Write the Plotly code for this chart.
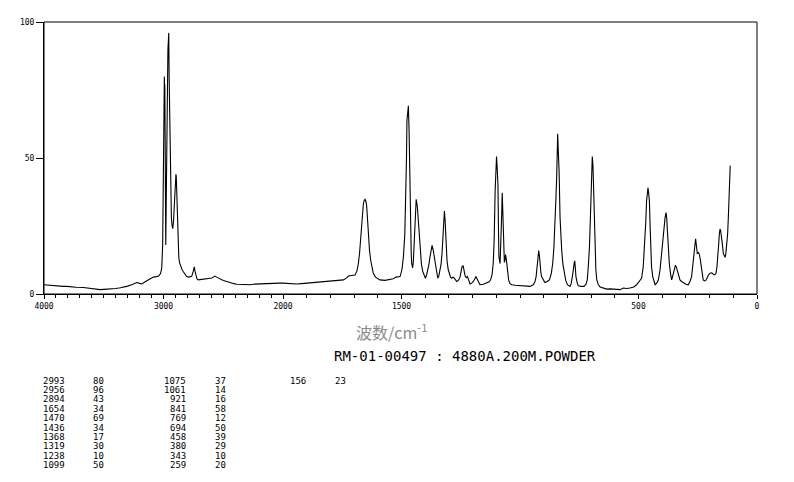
import plotly.graph_objects as go

# ---- spectrum: 4000-2000 cm-1 (compressed scale) ----
wn_high = [4000, 3960, 3922, 3880, 3840, 3810, 3770, 3730, 3671, 3630, 3587, 3560, 3531, 3500,
           3448, 3400, 3360, 3336, 3300, 3266, 3240, 3224, 3200, 3182, 3150, 3127, 3100, 3085,
           3060, 3040, 3025, 3015, 3007, 3002, 2998, 2995, 2993, 2991, 2989, 2987, 2984, 2981,
           2977, 2972, 2968, 2963, 2958, 2956, 2953, 2948, 2944, 2940, 2934, 2928, 2922, 2916,
           2908, 2900, 2896, 2893, 2889, 2884, 2878, 2872, 2866, 2856, 2845, 2834, 2820, 2806,
           2790, 2775, 2764, 2752, 2746, 2742, 2737, 2731, 2720, 2709, 2690, 2667, 2650, 2630,
           2611, 2595, 2580, 2569, 2555, 2540, 2527, 2500, 2471, 2440, 2410, 2387, 2360, 2330,
           2300, 2276, 2250, 2220, 2180, 2150, 2120, 2080, 2040, 2000]
int_high = [3.4, 3.2, 3.0, 2.9, 2.8, 2.8, 2.6, 2.5, 2.4, 2.1, 1.9, 1.7, 1.6, 1.7,
            1.8, 2.0, 2.3, 2.5, 2.9, 3.4, 4.0, 4.2, 3.9, 3.7, 4.6, 5.2, 5.9, 6.2,
            6.4, 6.6, 7.5, 9.4, 17.9, 45, 68, 78, 80, 76, 77, 60, 30, 18,
            35, 70, 86, 90, 94, 96, 80, 60, 45, 36, 28, 25, 24, 27,
            35, 42, 44, 43, 36, 27, 18, 13.5, 11.5, 10, 9, 8.2, 7.2, 6.4,
            6.2, 6.3, 6.5, 8.2, 9.6, 10, 8.5, 7, 5.6, 5.2, 5.3, 5.4, 5.5, 5.6,
            5.6, 5.9, 6.3, 6.6, 6.2, 5.8, 5.4, 5.0, 4.6, 4.1, 3.8, 3.6, 3.5, 3.4,
            3.5, 3.4, 3.6, 3.7, 3.8, 3.8, 4.0, 3.9, 4.0, 4.0]

# ---- 2000-0 cm-1 (expanded scale) ----
wn_low = [2000, 1970, 1942, 1910, 1872, 1840, 1802, 1770, 1745, 1730, 1724, 1710, 1696, 1688,
          1682, 1677, 1672, 1666, 1661, 1657, 1654, 1650, 1647, 1643, 1640, 1635, 1630, 1624,
          1619, 1610, 1600, 1591, 1570, 1549, 1535, 1523, 1510, 1506, 1498, 1492, 1486, 1482,
          1479, 1477, 1474, 1471, 1468, 1466, 1464, 1462, 1459, 1457, 1453, 1450, 1447, 1444,
          1441, 1438, 1433, 1430, 1426, 1422, 1416, 1410, 1404, 1399, 1394, 1389, 1384, 1380,
          1375, 1371, 1366, 1361, 1357, 1352, 1347, 1343, 1338, 1333, 1329, 1325, 1321, 1319,
          1316, 1314, 1311, 1308, 1303, 1298, 1293, 1288, 1283, 1278, 1272, 1267, 1260, 1253,
          1248, 1245, 1240, 1235, 1231, 1226, 1222, 1216, 1211, 1204, 1197, 1191, 1186, 1181,
          1177, 1172, 1169, 1155, 1140, 1130, 1124, 1118, 1113, 1109, 1105, 1102, 1099, 1096,
          1093, 1091, 1089, 1084, 1080, 1077, 1075, 1072, 1070, 1066, 1063, 1061, 1058, 1055,
          1052, 1048, 1042, 1035, 1020, 1000, 980, 958, 944, 937, 932, 927, 924, 921,
          918, 916, 912, 909, 902, 895, 885, 876, 868, 862, 857, 852, 848, 845,
          843, 841, 839, 837, 835, 831, 828, 824, 819, 814, 807, 800, 789, 784,
          781, 775, 771, 769, 766, 764, 759, 754, 742, 730, 722, 716, 712, 707,
          703, 700, 697, 695, 692, 690, 687, 685, 680, 676, 670, 662, 650, 634,
          620, 606, 590, 578, 564, 550, 536, 520, 508, 497, 487, 480, 473, 469,
          466, 462, 460, 457, 454, 451, 449, 445, 440, 435, 430, 423, 416, 409,
          402, 397, 392, 388, 384, 381, 378, 374, 370, 365, 360, 356, 353, 348,
          344, 340, 335, 330, 325, 318, 311, 300, 290, 283, 276, 271, 266, 262,
          259, 256, 252, 247, 243, 239, 235, 231, 227, 221, 216, 210, 205, 198,
          191, 186, 181, 176, 173, 169, 165, 162, 159, 156, 153, 150, 147, 142,
          138, 135, 132, 128, 124, 121, 119, 117, 115, 113]
int_low = [4.0, 3.8, 3.7, 3.9, 4.2, 4.4, 4.6, 4.8, 5.2, 6.0, 6.6, 6.8, 7.0, 8.5,
           11.2, 15, 20.9, 27, 33, 34.5, 34.8, 34, 32.4, 27, 22, 16, 12.4, 9.5,
           7.6, 6.2, 5.5, 5.2, 5.0, 5.2, 5.6, 6.2, 6.4, 6.4, 9, 13.6, 22, 34,
           50, 63.8, 68, 69.2, 60, 45, 32, 22, 15, 11.2, 9.6, 12, 17.2, 25,
           33, 34.8, 32, 28, 22, 16, 11, 8.2, 6.5, 5.8, 7, 8.8, 11, 13.6,
           16.5, 17.9, 16, 13, 10, 7.5, 5.8, 6.5, 8.2, 11, 14.9, 21, 28, 30.5,
           27, 23.3, 17, 12.4, 9, 7.0, 6.2, 5.8, 6.2, 5.9, 5.0, 4.6, 5.0, 6.2,
           8.5, 10, 10.4, 8.5, 6.4, 6.0, 6.4, 5.0, 3.7, 4.0, 4.6, 5.5, 6.4, 5.5,
           4.6, 3.8, 3.4, 3.6, 4.0, 4.5, 5.2, 7, 11.2, 20, 37.8, 46, 50.5, 46,
           40, 25, 13.6, 11.2, 19.7, 30, 37.2, 30, 23.3, 11.6, 12.5, 14.5, 13, 11.2,
           8, 5.2, 3.8, 3.4, 3.2, 3.0, 2.9, 2.8, 3.4, 4.5, 6.4, 12.4, 15, 16,
           14, 11.2, 8, 6.4, 5, 4.2, 4.6, 5.2, 7.5, 11.2, 17, 25.7, 36, 43.8,
           52, 58.9, 54, 50, 45, 28, 20, 16, 11, 8.2, 5, 3.4, 2.8, 3.8,
           5.2, 8.8, 11.5, 12.2, 9, 6.4, 4.2, 3.0, 2.8, 2.8, 3.5, 5.2, 10, 17.2,
           28, 37.8, 46, 50.5, 47, 40.2, 28, 17.2, 9, 5.2, 3.5, 2.6, 2.2, 1.8,
           1.9, 1.8, 1.7, 1.6, 2.2, 2.0, 2.2, 2.6, 3.4, 4.5, 5.8, 10, 19.7, 27,
           34.2, 38, 39, 37, 34.2, 25, 17.2, 10, 6.4, 4.2, 3.4, 4.0, 5.2, 9,
           16, 21, 25.7, 28, 29.9, 28, 23.3, 16, 11.2, 7.5, 5.2, 6.5, 7.6, 9.5,
           10.6, 9.8, 8.2, 6.5, 5.2, 4.6, 4.2, 3.6, 3.4, 4.5, 6.4, 10, 14.9, 18.5,
           20.3, 18, 14.9, 15.2, 14.5, 12.5, 10, 7, 5.2, 4.8, 5.0, 6.0, 7.0, 7.6,
           7.8, 7.4, 7.0, 7.2, 7.6, 10, 13.6, 18, 22, 23.9, 23, 21.5, 19, 14.9,
           13.6, 13.5, 14.5, 17.2, 22, 28, 33, 39, 43, 47.2]

# ---- peak table ----
peaks_a_wn = ["2993", "2956", "2894", "1654", "1470", "1436", "1368", "1319", "1238", "1099"]
peaks_a_i = ["80", "96", "43", "34", "69", "34", "17", "30", "10", "50"]
peaks_b_wn = ["1075", "1061", "921", "841", "769", "694", "458", "380", "343", "259"]
peaks_b_i = ["37", "14", "16", "58", "12", "50", "39", "29", "10", "20"]
peaks_c_wn = ["156"]
peaks_c_i = ["23"]

# ---- axis ticks ----
x_hi_ticks = [4000, 3000, 2000]
x_lo_ticks = [1500, 500, 0]
y_ticks = [0, 50, 100]

title_text = "波数/cm<sup>-1</sup>"
sample_text = "RM-01-00497 : 4880A.200M.POWDER"

# ---- layout geometry (page pixels; the page body adds an 8 px offset) ----
OFF = 8
W, H = 794 - OFF, 482 - OFF
L, R, T, B = 44, 757, 18, 294
split = (283 - L) / (R - L)

mono = "DejaVu Sans Mono"

fig = go.Figure()
fig.add_trace(go.Scatter(x=wn_high, y=int_high, mode="lines", xaxis="x", yaxis="y",
                         line=dict(color="black", width=1.1), showlegend=False,
                         hoverinfo="skip"))
fig.add_trace(go.Scatter(x=wn_low, y=int_low, mode="lines", xaxis="x2", yaxis="y",
                         line=dict(color="black", width=1.1), showlegend=False,
                         hoverinfo="skip"))

axis_common = dict(showgrid=False, zeroline=False, showline=True, linecolor="black",
                   linewidth=1, ticks="outside", ticklen=4, tickcolor="black",
                   tickfont=dict(family=mono, size=8, color="black"))
minor = dict(tickmode="linear", tick0=0, dtick=100, ticklen=2.5, ticks="outside",
             tickcolor="black", showgrid=False)

fig.update_layout(
    width=W, height=H, autosize=False,
    paper_bgcolor="white", plot_bgcolor="white",
    margin=dict(l=L - OFF, r=794 - R, t=T - OFF, b=482 - B, pad=0),
    xaxis=dict(domain=[0, split], range=[4000, 2000], anchor="y",
               tickmode="array", tickvals=x_hi_ticks,
               ticktext=[str(v) for v in x_hi_ticks], minor=minor, **axis_common),
    xaxis2=dict(domain=[split, 1], range=[2000, 0], anchor="y",
                tickmode="array", tickvals=x_lo_ticks,
                ticktext=[str(v) for v in x_lo_ticks], minor=minor, **axis_common),
    yaxis=dict(domain=[0, 1], range=[0, 100], anchor="x",
               tickmode="array", tickvals=y_ticks,
               ticktext=[str(v) for v in y_ticks],
               **{**axis_common, "ticklen": 7}),
)

# frame (top and right sides)
fig.add_shape(type="rect", xref="paper", yref="paper", x0=0, x1=1, y0=0, y1=1,
              line=dict(color="black", width=1), layer="above")


def px(xp):
    return (xp - L) / (R - L)


def py(yp):
    return (B - yp) / (B - T)


fig.add_annotation(x=px(391), y=py(332), xref="paper", yref="paper", text=title_text,
                   showarrow=False, xanchor="center", yanchor="middle",
                   font=dict(family="Noto Sans CJK SC", size=16, color="#8a8a8a"))
fig.add_annotation(x=px(465), y=py(357), xref="paper", yref="paper", text=sample_text,
                   showarrow=False, xanchor="center", yanchor="middle",
                   font=dict(family=mono, size=14, color="black"))

row0, dy = 382, 9.5
cols = [(67, peaks_a_wn), (106, peaks_a_i), (188, peaks_b_wn), (228, peaks_b_i),
        (308, peaks_c_wn), (348, peaks_c_i)]
for xr, vals in cols:
    for i, v in enumerate(vals):
        fig.add_annotation(x=px(xr), y=py(row0 + i * dy), xref="paper", yref="paper",
                           text=v, showarrow=False, xanchor="right", yanchor="middle",
                           font=dict(family=mono, size=9, color="black"))

fig.write_html("out.html")
